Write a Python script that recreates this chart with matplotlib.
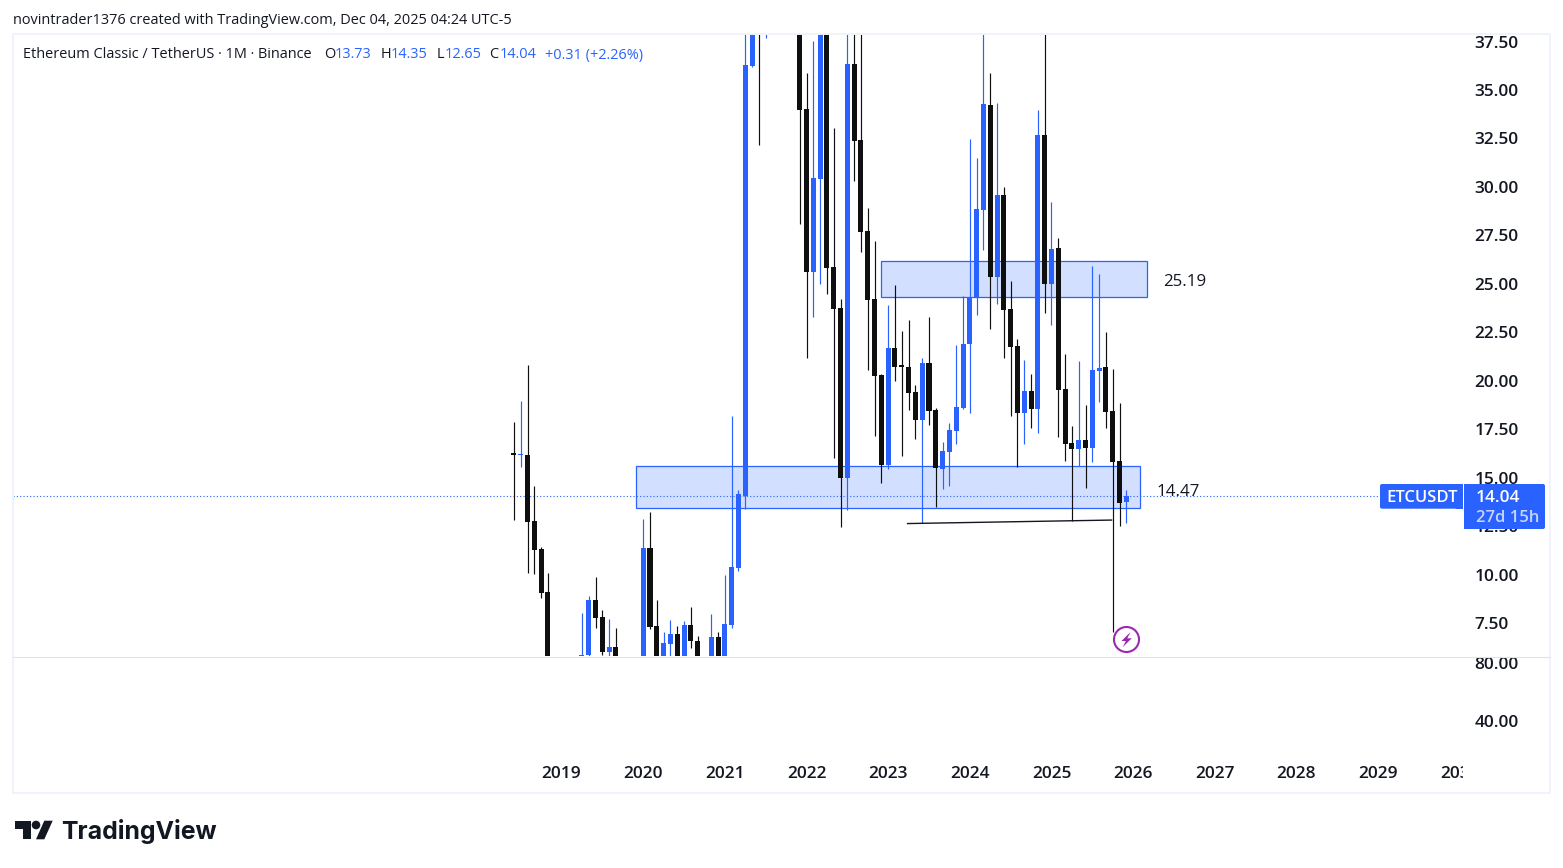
import matplotlib
matplotlib.use("Agg")
import matplotlib.pyplot as plt
from matplotlib.patches import Rectangle, FancyBboxPatch, Polygon, Circle

W, H = 1563, 868
UP = "#2962ff"
DOWN = "#0f0f0f"
TXT = "#131722"
FONT = "Open Sans"

# Monthly candles, June 2018 onward (values off-screen are estimates)
opens = [16.22,16.15,16.17,12.77,11.33,9.1,5.0,4.9,5.1,5.0,5.0,5.86,8.7,7.82,6.03,6.27,5.5,5.3,5.1,5.0,
         11.38,7.35,5.5,6.43,6.94,5.6,7.42,6.58,5.5,5.6,6.79,5.7,7.41,10.35,14.06,36.25,70,55,60,72,
         55,58,46,34.02,25.63,30.42,45,25.87,23.76,15.01,36.34,32.42,27.73,24.22,20.3,15.66,21.69,20.75,20.71,19.42,
         17.98,20.92,18.5,15.45,16.33,17.41,18.6,21.9,24.32,28.81,34.23,25.35,29.58,23.7,21.8,18.34,19.48,18.55,32.68,24.99,
         26.85,19.58,16.79,16.48,16.95,16.54,20.51,20.71,18.44,15.87,13.73]
highs = [17.88,18.97,20.82,14.58,11.43,10.09,5.5,5.4,5.5,5.6,8.03,8.9,9.88,8.18,7.72,7.25,5.7,5.6,5.4,12.88,
         13.24,8.7,7.04,7.67,7.35,7.6,8.34,6.83,5.7,7.98,7.04,9.98,18.19,14.37,38.5,176,85,65,80,85,
         65,65,48,35.88,37.53,48,48,33.04,24.22,45,45,38.5,28.91,27.21,20.35,23.91,24.94,22.57,23.14,19.78,
         21.18,23.29,18.6,16.85,17.83,21.85,24.37,32.47,31.5,38.1,35.88,34.33,29.99,25.15,22.16,21.07,20.35,33.97,38.5,29.22,
         27.37,21.38,17.67,21.02,18.75,25.92,25.51,22.52,20.61,18.86,14.35]
lows = [12.82,15.55,10.11,10.05,8.82,4.5,3.8,4.2,4.6,4.6,4.6,5.8,7.25,5.86,5.5,5.2,4.7,4.6,4.5,4.9,
        7.22,5.2,5.2,5.5,5.3,5.3,6.23,5.2,5.0,5.3,5.5,5.5,7.25,10.19,13.4,36.2,32.16,37.68,45,45,
        48,45,28.1,21.19,23.31,24.99,24.48,16.04,12.48,13.36,30.32,26.66,20.56,17.17,14.75,15.47,19.99,16.14,18.5,17.0,
        12.65,17.72,13.5,14.42,14.58,16.74,18.55,18.34,23.4,26.75,22.67,23.96,21.18,18.2,15.57,16.74,17.57,17.31,23.5,22.88,
        17.11,15.87,12.76,15.61,14.47,15.81,18.91,17.57,7.06,12.51,12.65]
closes = [16.2,16.18,12.74,11.29,9.07,5.0,4.9,5.1,5.0,5.0,5.86,8.7,7.78,6.03,6.27,5.5,5.3,5.1,5.0,11.38,
          7.32,5.6,6.48,6.94,5.6,7.42,6.58,5.5,5.6,6.79,5.7,7.46,10.4,14.16,36.29,70,55,60,72,55,
          58,46,33.98,25.63,30.46,45,25.83,23.7,15.01,36.34,32.38,27.69,24.17,20.25,15.66,21.69,20.71,20.73,19.37,17.98,
          20.92,18.44,15.51,16.38,17.47,18.65,21.9,24.32,28.86,34.28,25.35,29.58,23.65,21.74,18.34,19.48,18.55,32.68,24.99,26.8,
          19.53,16.74,16.48,16.95,16.54,20.56,20.66,18.39,15.81,13.7,14.04]

price_ticks = [7.5,10,12.5,15,17.5,20,22.5,25,27.5,30,32.5,35,37.5]
volume_ticks = [40,80]
year_positions = [7,19,31,43,55,67,79,91,103,115,127,139]
year_labels = ["2019","2020","2021","2022","2023","2024","2025","2026","2027","2028","2029","2030"]

zone_low = [13.44,24.3]
zone_high = [15.61,26.18]
zone_start = [17.88,53.89]
zone_end = [92.0,93.05]
zone_labels = ["14.47","25.19"]
trend_x = [57.85,87.83]
trend_y = [12.64,12.82]
last_price = 14.04

fig = plt.figure(figsize=(W/100, H/100), dpi=100, facecolor="white")

def rect(l, t, r, b):
    return [l/W, 1-b/H, (r-l)/W, (b-t)/H]

X0, X1 = (13-513.9)/6.805, (1463-513.9)/6.805
ax = fig.add_axes(rect(13,34,1463,656))
ax.set_xlim(X0, X1)
ax.set_ylim(5.81, 37.887)
for s in ax.spines.values():
    s.set_visible(False)
ax.set_xticks([])
ax.yaxis.tick_right()
ax.set_yticks(price_ticks, [f"{v:.2f}" for v in price_ticks])
ax.tick_params(axis="y", length=0, pad=8.2, labelsize=12.4, labelcolor=TXT)
for l in ax.get_yticklabels():
    l.set_fontfamily(FONT)
    l.set_fontweight("semibold")

xs = list(range(len(opens)))
cols = [UP if c >= o else DOWN for o, c in zip(opens, closes)]

for i in range(2):
    ax.add_patch(Rectangle((zone_start[i], zone_low[i]), zone_end[i]-zone_start[i],
                           zone_high[i]-zone_low[i], fc="#d2dfff", ec=UP, lw=0.9, zorder=1))
ax.axhline(last_price, color=UP, lw=0.8, ls=(0,(1,2)), zorder=1.5)
ax.vlines(xs, lows, highs, colors=cols, lw=0.85, zorder=2)
ax.bar(xs, [max(abs(c-o),0.1) for o, c in zip(opens, closes)],
       bottom=[min(o,c) for o, c in zip(opens, closes)],
       width=0.74, color=cols, lw=0, zorder=3)
ax.plot(trend_x, trend_y, color="#131722", lw=1, zorder=3)

# Indicator pane
ax2 = fig.add_axes(rect(13,656,1463,762))
ax2.set_xlim(X0, X1)
ax2.set_ylim(11.6, 84.8)
for s in ax2.spines.values():
    s.set_visible(False)
ax2.yaxis.tick_right()
ax2.set_yticks(volume_ticks, [f"{v:.2f}" for v in volume_ticks])
ax2.set_xticks(year_positions, year_labels)
ax2.tick_params(axis="y", length=0, pad=8.2, labelsize=12.4, labelcolor=TXT)
ax2.tick_params(axis="x", length=0, pad=3, labelsize=12.4, labelcolor=TXT)
for l in ax2.get_yticklabels()+ax2.get_xticklabels():
    l.set_fontfamily(FONT)
    l.set_fontweight("semibold")

# Pixel overlay for page furniture
ov = fig.add_axes([0,0,1,1])
ov.set_xlim(0, W)
ov.set_ylim(H, 0)
ov.axis("off")
ov.patch.set_alpha(0)
ov.add_patch(Rectangle((1463,762), 86, 26, fc="white", ec="none"))
ov.add_patch(Rectangle((13,34), 1537, 759, fc="none", ec="#f0f3fa", lw=1.4))
ov.plot([13,1550],[656.5,656.5], color="#e0e3eb", lw=0.8)

# Last price tags
ov.add_patch(FancyBboxPatch((1382,486), 76, 20.7, boxstyle="round,pad=2,rounding_size=2", fc=UP, ec="none"))
ov.add_patch(Rectangle((1456,484), 6.8, 24.7, fc=UP, ec="none"))
ov.add_patch(FancyBboxPatch((1466,486), 77, 41, boxstyle="round,pad=2,rounding_size=2", fc=UP, ec="none"))
ov.add_patch(Rectangle((1464,484), 6, 45, fc=UP, ec="none"))
ov.text(1386, 498, "ETCUSDT", color="white", fontsize=12, va="center", ha="left", family=FONT, weight="semibold")
ov.text(1476, 497.5, "14.04", color="white", fontsize=12.4, va="center", ha="left", family=FONT, weight="semibold")
ov.text(1476, 517.5, "27d 15h", color="#c6d4fb", fontsize=12, va="center", ha="left", family=FONT, weight="semibold")

# Header
ov.text(13, 20.5, "novintrader1376 created with TradingView.com, Dec 04, 2025 04:24 UTC-5",
        color=TXT, fontsize=10.45, va="center", ha="left", family=FONT)
ov.text(23, 55, "Ethereum Classic / TetherUS · 1M · Binance", color=TXT, fontsize=10.45, va="center", ha="left", family=FONT)
hdr = [(324,"O",TXT),(334.5,"13.73",UP),(380.5,"H",TXT),(390.5,"14.35",UP),(436.5,"L",TXT),(445,"12.65",UP),
       (489.5,"C",TXT),(499.5,"14.04",UP),(545,"+0.31 (+2.26%)",UP)]
for x, s, c in hdr:
    ov.text(x, 55, s, color=c, fontsize=10.45, va="center", ha="left", family=FONT)

# Zone labels
ov.text(1163, 282.5, zone_labels[1], color=TXT, fontsize=12.2, va="center", ha="left", family=FONT)
ov.text(1156, 491.5, zone_labels[0], color=TXT, fontsize=12.2, va="center", ha="left", family=FONT)

# Lightning marker
ov.add_patch(Circle((1126.5,639.5), 12.5, fc="white", ec="#9c27b0", lw=1.5))
ov.add_patch(Polygon([(1130.5,632),(1121.5,641),(1125.8,641),(1122.8,647),(1131.8,638.3),(1127.3,638.3)],
                     closed=True, fc="#9c27b0", ec="none"))

# Logo
ov.add_patch(Polygon([(15.3,820.7),(30.7,820.7),(30.7,839.3),(23.3,839.3),(23.3,829.3),(15.3,829.3)], fc="#131722", ec="none"))
ov.add_patch(Circle((36,825), 4.3, fc="#131722", ec="none"))
ov.add_patch(Polygon([(52.7,820.7),(44.3,820.7),(36,839.3),(44.3,839.3)], fc="#131722", ec="none"))
ov.text(61, 831.5, "TradingView", color="#131722", fontsize=17.9, va="center", ha="left", family="Inter", weight="bold")

fig.savefig("out.png", dpi=100, facecolor="white")
